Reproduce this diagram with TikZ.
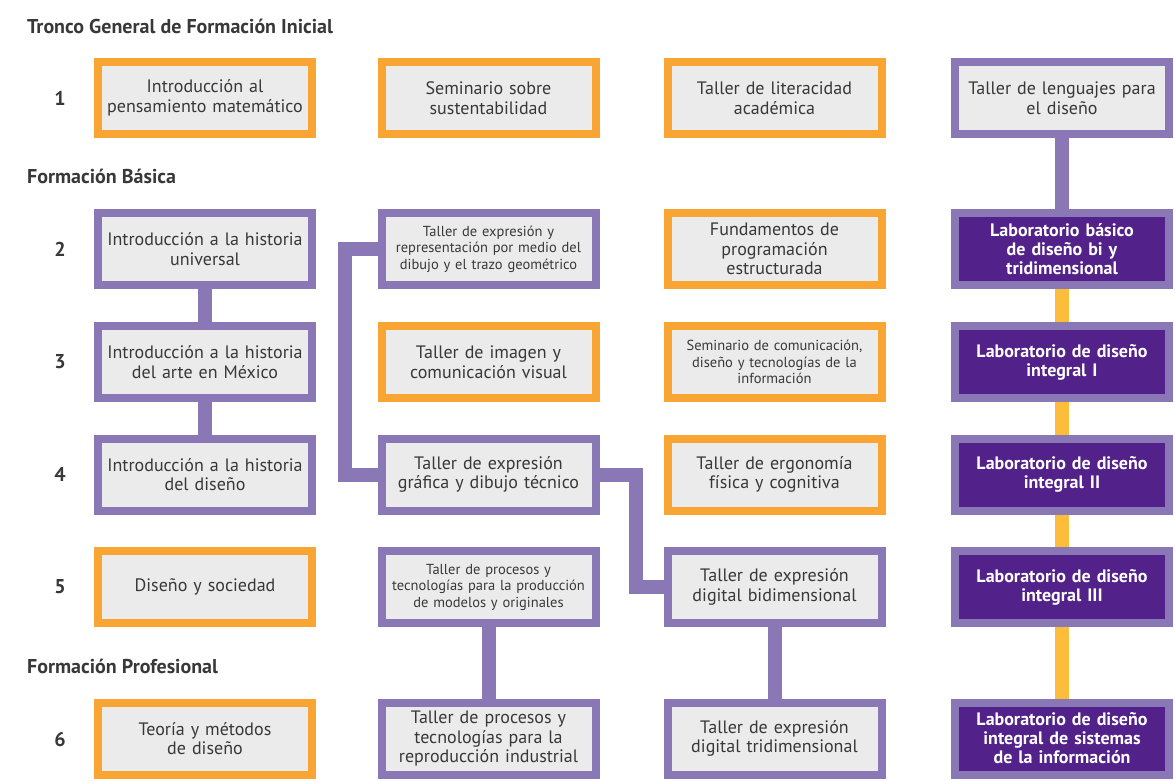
\documentclass[tikz,border=0pt]{standalone}
\usepackage{fontspec}
\setmainfont{PT Sans}
\usetikzlibrary{backgrounds}
\definecolor{naranja}{HTML}{F8A534}
\definecolor{lila}{HTML}{8A78B6}
\definecolor{morado}{HTML}{52228A}
\definecolor{amarillo}{HTML}{FCBE3A}
\definecolor{gris}{HTML}{EBEBEB}
\definecolor{texto}{HTML}{383838}
\tikzstyle{materia} = [rectangle, draw, line width=8pt, fill=gris, text=texto,
    text width=212pt, align=center, minimum width=214pt, minimum height=72pt,
    inner sep=0pt, font=\fontsize{18}{19.5}\selectfont]
\tikzstyle{naranjabox} = [materia, draw=naranja]
\tikzstyle{lilabox} = [materia, draw=lila]
\tikzstyle{labbox} = [materia, draw=lila, fill=morado, text=white,
    font=\bfseries\fontsize{18}{19}\selectfont]
\tikzstyle{chico} = [font=\fontsize{14.5}{16.5}\selectfont]
\tikzstyle{conn} = [draw=lila, line width=14pt]
\tikzstyle{labconn} = [draw=amarillo, line width=14pt]
\tikzstyle{seccion} = [anchor=west, text=texto, inner sep=0pt,
    font=\bfseries\fontsize{20}{22}\selectfont]
\tikzstyle{num} = [text=texto, font=\bfseries\fontsize{20}{22}\selectfont]

\begin{document}
\begin{tikzpicture}[x=1pt, y=-1pt]
 \useasboundingbox (0,0) rectangle (1175,781);

 \node[seccion] (tronco) at (27,26) {Tronco General de Formación Inicial};
 \node[seccion] (basica) at (27,176) {Formación Básica};
 \node[seccion] (profesional) at (27,666) {Formación Profesional};

 \node[num] (n1) at (60,98) {1};
 \node[num] (n2) at (60,249) {2};
 \node[num] (n3) at (60,362) {3};
 \node[num] (n4) at (60,474) {4};
 \node[num] (n5) at (60,587) {5};
 \node[num] (n6) at (60,739) {6};

 % semestre 1
 \node[naranjabox] (mat) at (205,98) {Introducción al\\pensamiento matemático};
 \node[naranjabox] (sust) at (488.5,98) {Seminario sobre\\sustentabilidad};
 \node[naranjabox] (lit) at (774.5,98) {Taller de literacidad\\académica};
 \node[lilabox] (leng) at (1062,98) {Taller de lenguajes para\\el diseño};

 % semestre 2
 \node[lilabox] (hu) at (205,249) {Introducción a la historia\\universal};
 \node[lilabox, chico] (trazo) at (488.5,249) {Taller de expresión y\\representación por medio del\\dibujo y el trazo geométrico};
 \node[naranjabox] (prog) at (774.5,249) {Fundamentos de\\programación\\estructurada};
 \node[labbox] (labbas) at (1062,249) {Laboratorio básico\\de diseño bi y\\tridimensional};

 % semestre 3
 \node[lilabox] (harte) at (205,362) {Introducción a la historia\\del arte en México};
 \node[naranjabox] (imagen) at (488.5,362) {Taller de imagen y\\comunicación visual};
 \node[naranjabox, chico] (semcom) at (774.5,362) {Seminario de comunicación,\\diseño y tecnologías de la\\información};
 \node[labbox] (labi) at (1062,362) {Laboratorio de diseño\\integral I};

 % semestre 4
 \node[lilabox] (hdis) at (205,474.5) {Introducción a la historia\\del diseño};
 \node[lilabox] (grafica) at (488.5,474.5) {Taller de expresión\\gráfica y dibujo técnico};
 \node[naranjabox] (ergo) at (774.5,474.5) {Taller de ergonomía\\física y cognitiva};
 \node[labbox] (labii) at (1062,474.5) {Laboratorio de diseño\\integral II};

 % semestre 5
 \node[naranjabox] (soc) at (205,587) {Diseño y sociedad};
 \node[lilabox, chico] (modelos) at (488.5,587) {Taller de procesos y\\tecnologías para la producción\\de modelos y originales};
 \node[lilabox] (bidim) at (774.5,587) {Taller de expresión\\digital bidimensional};
 \node[labbox] (labiii) at (1062,587) {Laboratorio de diseño\\integral III};

 % semestre 6
 \node[naranjabox] (teoria) at (205,738.5) {Teoría y métodos\\de diseño};
 \node[lilabox] (repro) at (488.5,738.5) {Taller de procesos y\\tecnologías para la\\reproducción industrial};
 \node[lilabox] (tridim) at (774.5,738.5) {Taller de expresión\\digital tridimensional};
 \node[labbox] (labsis) at (1062,738.5) {Laboratorio de diseño\\integral de sistemas\\de la información};

 \begin{scope}[on background layer]
  \path[conn] (hu) -- (harte);
  \path[conn] (harte) -- (hdis);
  \path[conn] (trazo.west) -- ++(-33,0) |- (grafica.west);
  \path[conn] (grafica.east) -- ++(36,0) |- (bidim.west);
  \path[conn] (modelos) -- (repro);
  \path[conn] (bidim) -- (tridim);
  \path[conn] (leng) -- (labbas);
  \path[labconn] (labbas) -- (labi);
  \path[labconn] (labi) -- (labii);
  \path[labconn] (labii) -- (labiii);
  \path[labconn] (labiii) -- (labsis);
 \end{scope}
\end{tikzpicture}
\end{document}
